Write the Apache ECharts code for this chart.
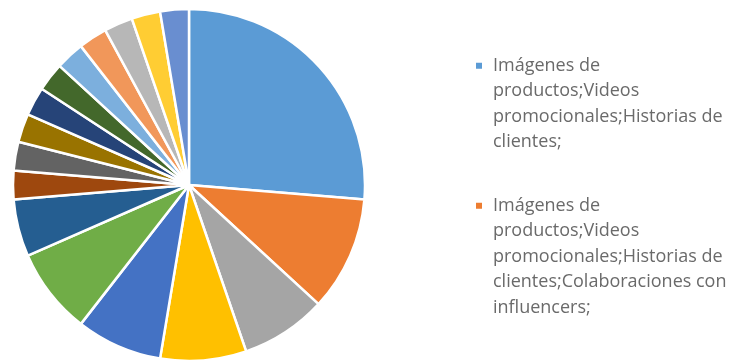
<!DOCTYPE html>
<html>
<head>
<meta charset="utf-8">
<script src="https://cdn.jsdelivr.net/npm/echarts@6/dist/echarts.min.js"></script>
<style>
  html, body { margin: 0; padding: 0; background: #ffffff; }
  #chart { width: 730px; height: 361px; }
</style>
</head>
<body>
<div id="chart"></div>
<script>
// Content combinations (one slice each), in drawing order
const categories = [
  'Imágenes de productos;Videos promocionales;Historias de clientes;',
  'Imágenes de productos;Videos promocionales;Historias de clientes;Colaboraciones con influencers;',
  'Imágenes de productos;Videos promocionales;',
  'Imágenes de productos;',
  'Imágenes de productos;Historias de clientes;',
  'Videos promocionales;',
  'Imágenes de productos;Videos promocionales;Colaboraciones con influencers;',
  'Historias de clientes;',
  'Colaboraciones con influencers;',
  'Videos promocionales;Historias de clientes;',
  'Imágenes de productos;Colaboraciones con influencers;',
  'Videos promocionales;Colaboraciones con influencers;',
  'Historias de clientes;Colaboraciones con influencers;',
  'Imágenes de productos;Historias de clientes;Colaboraciones con influencers;',
  'Videos promocionales;Historias de clientes;Colaboraciones con influencers;',
  'Imágenes de productos;Videos promocionales;Historias de clientes;Otros;',
  'Otros;'
];

// Number of responses per combination
const counts = [10, 4, 3, 3, 3, 3, 2, 1, 1, 1, 1, 1, 1, 1, 1, 1, 1];

// Slice colours
const palette = [
  '#5B9BD5', '#ED7D31', '#A5A5A5', '#FFC000', '#4472C4', '#70AD47',
  '#255E91', '#9E480E', '#636363', '#997300', '#264478', '#43682B',
  '#7CAFDD', '#F1975A', '#B7B7B7', '#FFCD33', '#698ED0'
];

// Legend entries shown, with their wrapped lines
const legendNames = [categories[0], categories[1]];
const legendLines = [
  ['Imágenes de', 'productos;Videos', 'promocionales;Historias de', 'clientes;'],
  ['Imágenes de', 'productos;Videos', 'promocionales;Historias de', 'clientes;Colaboraciones con', 'influencers;']
];

const LINE_H = 25.5;
const rich = {
  g: { width: 11, height: LINE_H, lineHeight: LINE_H },
  s: { width: 17, height: LINE_H, lineHeight: LINE_H },
  t: { fontFamily: 'Open Sans', fontSize: 18, color: '#6a6a6a', lineHeight: LINE_H, height: LINE_H }
};
legendNames.forEach(function (n, i) {
  rich['m' + i] = { width: 6, height: 6, backgroundColor: palette[i] };
});

const chart = echarts.init(document.getElementById('chart'), null, { renderer: 'canvas' });
chart.setOption({
  animation: false,
  color: palette,
  legend: {
    data: legendNames,
    orient: 'vertical',
    left: 470,
    top: 53,
    padding: 0,
    itemGap: 38,
    itemWidth: 0,
    itemHeight: 0,
    icon: 'rect',
    selectedMode: false,
    formatter: function (name) {
      const idx = legendNames.indexOf(name);
      return legendLines[idx].map(function (line, i) {
        return (i === 0 ? '{m' + idx + '|}{g|}' : '{s|}') + '{t|' + line + '}';
      }).join('\n');
    },
    textStyle: { rich: rich, padding: 0 }
  },
  series: [{
    type: 'pie',
    center: [189, 185],
    radius: 176,
    startAngle: 90,
    clockwise: true,
    label: { show: false },
    labelLine: { show: false },
    emphasis: { disabled: true },
    itemStyle: { borderColor: '#ffffff', borderWidth: 2.5 },
    data: categories.map(function (name, i) {
      return { name: name, value: counts[i] };
    })
  }]
});
</script>
</body>
</html>
